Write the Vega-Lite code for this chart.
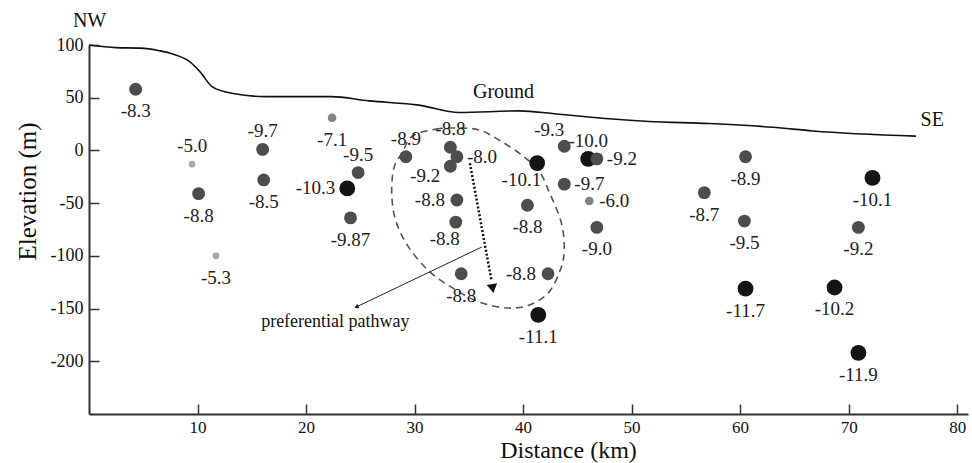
{
  "$schema": "https://vega.github.io/schema/vega-lite/v6.json",
  "width": 879,
  "height": 369,
  "autosize": "none",
  "padding": {"left": 89, "top": 45, "right": 4, "bottom": 49},
  "background": "white",
  "config": {
    "view": {"stroke": null},
    "font": "Liberation Serif",
    "axis": {
      "grid": false,
      "domainColor": "#333333",
      "domainWidth": 2,
      "tickColor": "#333333",
      "tickWidth": 1.5,
      "tickSize": -10,
      "labelFont": "Liberation Serif",
      "labelFontSize": 18,
      "labelColor": "#111111",
      "titleFont": "Liberation Serif",
      "titleFontSize": 25,
      "titleFontWeight": "normal",
      "titleColor": "#111111",
      "labelFlush": false,
      "labelOverlap": false,
      "labelExpr": "toString(datum.value)"
    }
  },
  "datasets": {
    "ground": [
      {"x": 0, "y": 100}, {"x": 2.5, "y": 97.5}, {"x": 4.7, "y": 97}, {"x": 6.5, "y": 94.5},
      {"x": 7.7, "y": 91.5}, {"x": 9.3, "y": 84}, {"x": 10.2, "y": 75}, {"x": 11.4, "y": 60},
      {"x": 13.3, "y": 54}, {"x": 16.3, "y": 51}, {"x": 22.3, "y": 51}, {"x": 25.8, "y": 47},
      {"x": 30.4, "y": 43}, {"x": 34.1, "y": 36}, {"x": 39.7, "y": 37.5}, {"x": 42.7, "y": 35},
      {"x": 47.3, "y": 30.5}, {"x": 51.6, "y": 27.5}, {"x": 57.2, "y": 25.5}, {"x": 63, "y": 22},
      {"x": 66.7, "y": 18.5}, {"x": 76.2, "y": 13.6}
    ],
    "ellipse": [
      {"i": 1, "x": 29.8, "y": 13.6}, {"i": 2, "x": 32.0, "y": 20.2}, {"i": 3, "x": 34.1, "y": 21.2},
      {"i": 4, "x": 36.0, "y": 19.3}, {"i": 5, "x": 37.8, "y": 9.8}, {"i": 6, "x": 39.9, "y": -4.5},
      {"i": 7, "x": 41.5, "y": -20.2}, {"i": 8, "x": 42.4, "y": -39.2}, {"i": 9, "x": 43.5, "y": -67.7},
      {"i": 10, "x": 43.8, "y": -92.4}, {"i": 11, "x": 43.5, "y": -111.4}, {"i": 12, "x": 42.4, "y": -134.2},
      {"i": 13, "x": 40.6, "y": -146.6}, {"i": 14, "x": 38.5, "y": -149.4}, {"i": 15, "x": 35.9, "y": -143.7},
      {"i": 16, "x": 33.5, "y": -130.4}, {"i": 17, "x": 31.4, "y": -115.2}, {"i": 18, "x": 29.5, "y": -92.4},
      {"i": 19, "x": 28.3, "y": -67.7}, {"i": 20, "x": 27.9, "y": -42.1}, {"i": 21, "x": 28.1, "y": -16.4},
      {"i": 22, "x": 28.9, "y": -1.6}
    ],
    "dotted": [{"x": 35.1, "y": -12.1}, {"x": 37.1, "y": -124}],
    "dottedHead": [{"x": 37.2, "y": -131}],
    "pathway": [{"x": 36.2, "y": -91.6}, {"x": 24.6, "y": -148.6}],
    "pathwayHead": [{"x": 24.7, "y": -148.2}],
    "pts": [
      {"x": 4.3, "y": 58, "v": -8.3, "lab": "-8.3", "side": "below"},
      {"x": 9.5, "y": -13, "v": -5.0, "lab": "-5.0", "side": "above"},
      {"x": 10.1, "y": -41, "v": -8.8, "lab": "-8.8", "side": "below"},
      {"x": 11.7, "y": -100, "v": -5.3, "lab": "-5.3", "side": "below"},
      {"x": 16.0, "y": 1, "v": -9.7, "lab": "-9.7", "side": "above"},
      {"x": 16.1, "y": -28, "v": -8.5, "lab": "-8.5", "side": "below"},
      {"x": 22.4, "y": 31, "v": -7.1, "lab": "-7.1", "side": "below"},
      {"x": 23.8, "y": -36, "v": -10.3, "lab": "-10.3", "side": "left"},
      {"x": 24.8, "y": -21, "v": -9.5, "lab": "-9.5", "side": "above"},
      {"x": 24.1, "y": -64, "v": -9.87, "lab": "-9.87", "side": "below"},
      {"x": 29.2, "y": -6, "v": -8.9, "lab": "-8.9", "side": "above"},
      {"x": 33.3, "y": 3, "v": -8.8, "lab": "-8.8", "side": "above"},
      {"x": 33.9, "y": -6, "v": -8.0, "lab": "-8.0", "side": "right"},
      {"x": 33.3, "y": -15, "v": -9.2, "lab": "-9.2", "side": "leftlow"},
      {"x": 33.9, "y": -47, "v": -8.8, "lab": "-8.8", "side": "left"},
      {"x": 33.8, "y": -68, "v": -8.8, "lab": "-8.8", "side": "belowleft"},
      {"x": 34.3, "y": -117, "v": -8.8, "lab": "-8.8", "side": "below"},
      {"x": 41.3, "y": -12, "v": -10.1, "lab": "-10.1", "side": "belowleft"},
      {"x": 43.8, "y": 4, "v": -9.3, "lab": "-9.3", "side": "aboveleft"},
      {"x": 46.0, "y": -8, "v": -10.0, "lab": "-10.0", "side": "above"},
      {"x": 46.8, "y": -8, "v": -9.2, "lab": "-9.2", "side": "right"},
      {"x": 43.8, "y": -32, "v": -9.7, "lab": "-9.7", "side": "right"},
      {"x": 46.1, "y": -48, "v": -6.0, "lab": "-6.0", "side": "right"},
      {"x": 40.4, "y": -52, "v": -8.8, "lab": "-8.8", "side": "below"},
      {"x": 46.8, "y": -73, "v": -9.0, "lab": "-9.0", "side": "below"},
      {"x": 42.3, "y": -117, "v": -8.8, "lab": "-8.8", "side": "left"},
      {"x": 41.4, "y": -156, "v": -11.1, "lab": "-11.1", "side": "below"},
      {"x": 60.5, "y": -6, "v": -8.9, "lab": "-8.9", "side": "below"},
      {"x": 56.7, "y": -40, "v": -8.7, "lab": "-8.7", "side": "below"},
      {"x": 60.4, "y": -67, "v": -9.5, "lab": "-9.5", "side": "below"},
      {"x": 60.5, "y": -131, "v": -11.7, "lab": "-11.7", "side": "below"},
      {"x": 68.7, "y": -130, "v": -10.2, "lab": "-10.2", "side": "below"},
      {"x": 70.9, "y": -73, "v": -9.2, "lab": "-9.2", "side": "below"},
      {"x": 72.2, "y": -26, "v": -10.1, "lab": "-10.1", "side": "below"},
      {"x": 70.9, "y": -192, "v": -11.9, "lab": "-11.9", "side": "below"}
    ],
    "notes": [
      {"x": 0.05, "y": 123, "t": "NW"},
      {"x": 38.2, "y": 55.3, "t": "Ground"},
      {"x": 77.7, "y": 28.8, "t": "SE"}
    ],
    "notes2": [
      {"x": 22.7, "y": -163, "t": "preferential pathway"}
    ]
  },
  "encoding": {
    "x": {
      "field": "x",
      "type": "quantitative",
      "scale": {"domain": [0, 81], "nice": false, "zero": false},
      "axis": {
        "title": "Distance (km)",
        "values": [10, 20, 30, 40, 50, 60, 70, 80],
        "labelFontSize": 17,
        "labelPadding": 15,
        "titleX": 479,
        "titleY": 36,
        "titleFontSize": 24,
        "titleBaseline": "middle"
      }
    },
    "y": {
      "field": "y",
      "type": "quantitative",
      "scale": {"domain": [-250, 100], "nice": false, "zero": false},
      "axis": {
        "title": "Elevation (m)",
        "values": [100, 50, 0, -50, -100, -150, -200],
        "labelPadding": 16,
        "titleX": -62,
        "titleY": 146,
        "titleAngle": -90,
        "titleFontSize": 25,
        "titleBaseline": "middle"
      }
    }
  },
  "layer": [
    {
      "data": {"name": "ground"},
      "mark": {"type": "line", "color": "#111111", "strokeWidth": 1.6, "interpolate": "monotone"},
      "encoding": {}
    },
    {
      "data": {"name": "ellipse"},
      "mark": {"type": "line", "color": "#555555", "strokeWidth": 1.6, "strokeDash": [7, 5], "interpolate": "cardinal-closed"},
      "encoding": {"order": {"field": "i", "type": "quantitative"}}
    },
    {
      "data": {"name": "dotted"},
      "mark": {"type": "line", "color": "#111111", "strokeWidth": 2.5, "strokeDash": [2, 2]},
      "encoding": {}
    },
    {
      "data": {"name": "dottedHead"},
      "mark": {"type": "point", "shape": "triangle-down", "filled": true, "color": "#111111", "opacity": 1, "size": 110, "angle": 350},
      "encoding": {}
    },
    {
      "data": {"name": "pathway"},
      "mark": {"type": "line", "color": "#222222", "strokeWidth": 1},
      "encoding": {}
    },
    {
      "data": {"name": "pathwayHead"},
      "mark": {"type": "point", "shape": "triangle", "filled": true, "color": "#222222", "opacity": 1, "size": 25, "angle": 244},
      "encoding": {}
    },
    {
      "data": {"name": "pts"},
      "mark": {"type": "circle", "opacity": 1},
      "encoding": {
        "color": {
          "field": "v",
          "type": "quantitative",
          "scale": {"type": "threshold", "domain": [-9.95, -7.5, -5.5], "range": ["#141414", "#4d4d4d", "#828282", "#a8a8a8"]},
          "legend": null
        },
        "size": {
          "field": "v",
          "type": "quantitative",
          "scale": {"type": "threshold", "domain": [-9.95, -7.5, -5.5], "range": [250, 165, 75, 45]},
          "legend": null
        }
      }
    },
    {
      "data": {"name": "pts"},
      "transform": [{"filter": "datum.side == 'below'"}],
      "mark": {"type": "text", "fontSize": 19, "color": "#222222", "dy": 22, "baseline": "middle", "align": "center"},
      "encoding": {"text": {"field": "lab"}}
    },
    {
      "data": {"name": "pts"},
      "transform": [{"filter": "datum.side == 'above'"}],
      "mark": {"type": "text", "fontSize": 19, "color": "#222222", "dy": -18, "baseline": "middle", "align": "center"},
      "encoding": {"text": {"field": "lab"}}
    },
    {
      "data": {"name": "pts"},
      "transform": [{"filter": "datum.side == 'left'"}],
      "mark": {"type": "text", "fontSize": 19, "color": "#222222", "dx": -12, "baseline": "middle", "align": "right"},
      "encoding": {"text": {"field": "lab"}}
    },
    {
      "data": {"name": "pts"},
      "transform": [{"filter": "datum.side == 'leftlow'"}],
      "mark": {"type": "text", "fontSize": 19, "color": "#222222", "dx": -10, "dy": 10, "baseline": "middle", "align": "right"},
      "encoding": {"text": {"field": "lab"}}
    },
    {
      "data": {"name": "pts"},
      "transform": [{"filter": "datum.side == 'right'"}],
      "mark": {"type": "text", "fontSize": 19, "color": "#222222", "dx": 10, "baseline": "middle", "align": "left"},
      "encoding": {"text": {"field": "lab"}}
    },
    {
      "data": {"name": "pts"},
      "transform": [{"filter": "datum.side == 'belowleft'"}],
      "mark": {"type": "text", "fontSize": 19, "color": "#222222", "dx": 4, "dy": 17, "baseline": "middle", "align": "right"},
      "encoding": {"text": {"field": "lab"}}
    },
    {
      "data": {"name": "pts"},
      "transform": [{"filter": "datum.side == 'aboveleft'"}],
      "mark": {"type": "text", "fontSize": 19, "color": "#222222", "dx": 0, "dy": -16, "baseline": "middle", "align": "right"},
      "encoding": {"text": {"field": "lab"}}
    },
    {
      "data": {"name": "notes"},
      "mark": {"type": "text", "fontSize": 20, "color": "#111111", "baseline": "middle", "align": "center"},
      "encoding": {"text": {"field": "t"}}
    },
    {
      "data": {"name": "notes2"},
      "mark": {"type": "text", "fontSize": 18, "color": "#111111", "baseline": "middle", "align": "center"},
      "encoding": {"text": {"field": "t"}}
    }
  ]
}
